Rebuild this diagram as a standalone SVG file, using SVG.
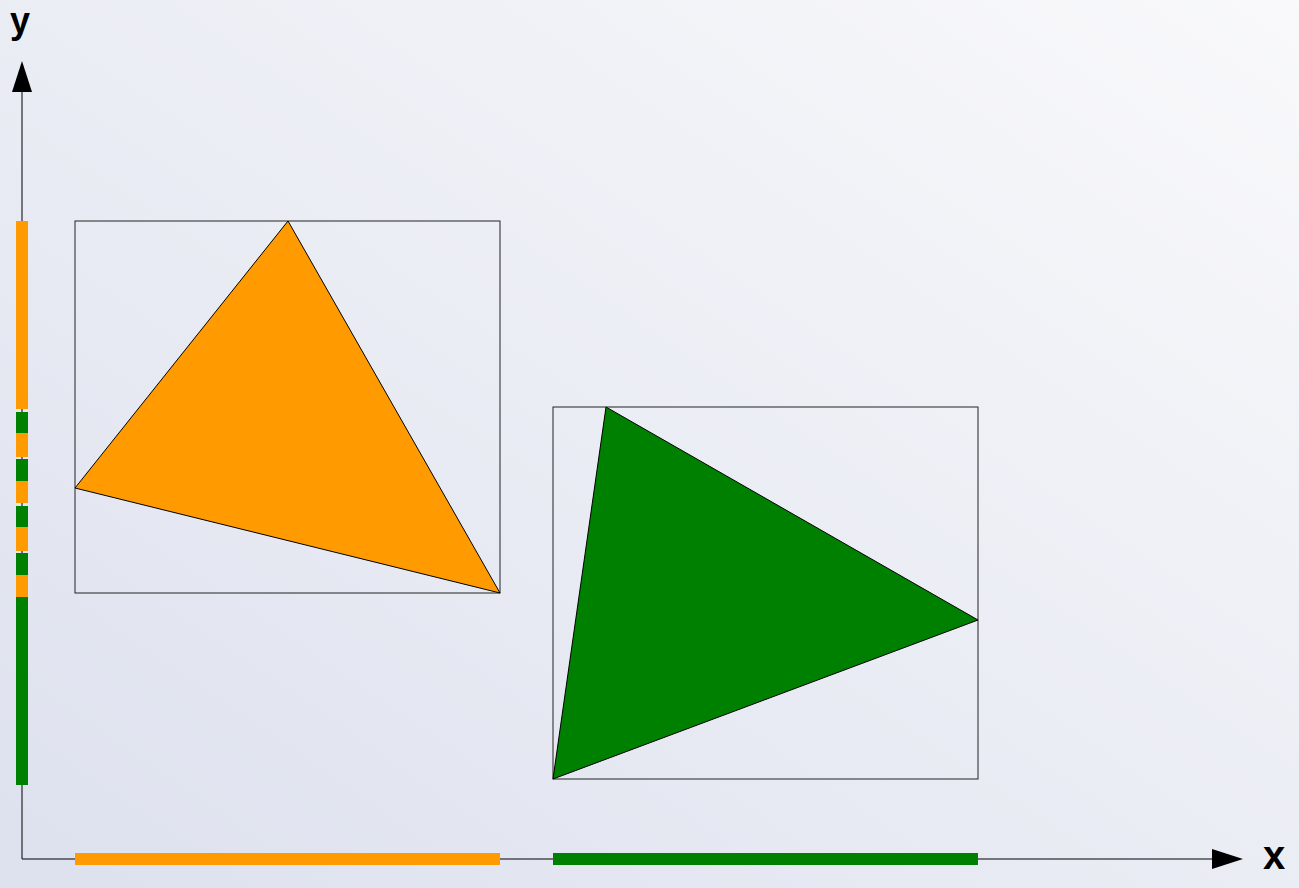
<svg xmlns="http://www.w3.org/2000/svg" width="1299" height="888" viewBox="0 0 1299 888">
<defs>
<linearGradient id="bg" x1="1" y1="0" x2="0" y2="1">
<stop offset="0" stop-color="#f9f9fb"/>
<stop offset="1" stop-color="#dde1ee"/>
</linearGradient>
<style>
.box{fill:none;stroke:#222;stroke-width:1}
.tri{stroke:#000;stroke-width:1;stroke-linejoin:round}
.axis{stroke:#000;stroke-width:1;fill:none}
.lbl{font-family:"Liberation Sans",Arial,sans-serif;font-weight:bold;font-size:40px;fill:#000}
.o{fill:#ff9b00}
.g{fill:#008000}
</style>
</defs>
<rect width="1299" height="888" fill="url(#bg)"/>
<g id="axes">
<path class="axis" d="M22,859 V88 M22,859 H1215"/>
<polygon points="22,61 12,92 32,92" fill="#000"/>
<polygon points="1243,859 1212,849 1212,869" fill="#000"/>
<text class="lbl" x="10" y="33" style="font-size:36px">y</text>
<text class="lbl" x="1263" y="869">x</text>
</g>
<g id="x-projections">
<rect class="o" x="75" y="853" width="425" height="12"/>
<rect class="g" x="553" y="853" width="425" height="12"/>
</g>
<g id="y-projections">
<rect class="o" x="16" y="221" width="12" height="188"/>
<rect class="g" x="16" y="412" width="12" height="21"/>
<rect class="o" x="16" y="433" width="12" height="24"/>
<rect class="g" x="16" y="459" width="12" height="22"/>
<rect class="o" x="16" y="481" width="12" height="22"/>
<rect class="g" x="16" y="506" width="12" height="21"/>
<rect class="o" x="16" y="527" width="12" height="24"/>
<rect class="g" x="16" y="553" width="12" height="22"/>
<rect class="o" x="16" y="575" width="12" height="22"/>
<rect class="g" x="16" y="597" width="12" height="188"/>
</g>
<g id="orange-triangle">
<rect class="box" x="75" y="221" width="425" height="372"/>
<polygon class="tri o" points="288,221 75,488 500,593"/>
</g>
<g id="green-triangle">
<rect class="box" x="553" y="407" width="425" height="372"/>
<polygon class="tri g" points="606,407 978,620 553,779"/>
</g>
</svg>
